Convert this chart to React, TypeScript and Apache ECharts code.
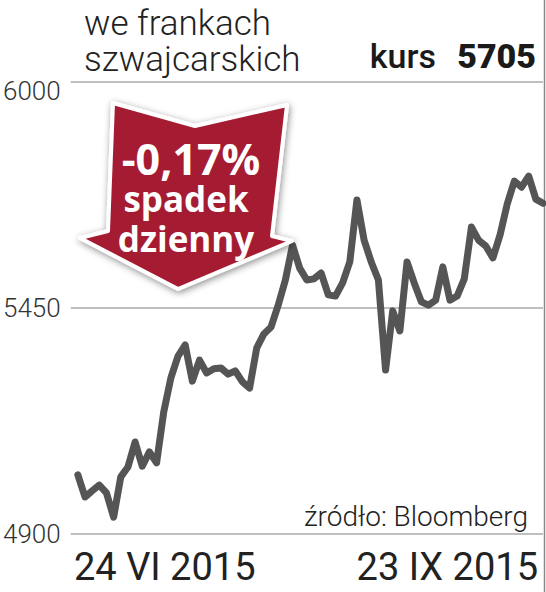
import React, { useEffect, useRef } from "react";
import * as echarts from "echarts";

// Trading days, 24 VI 2015 – 23 IX 2015
const dates: string[] = [
  "2015-06-24", "2015-06-25", "2015-06-26", "2015-06-29", "2015-06-30",
  "2015-07-01", "2015-07-02", "2015-07-03", "2015-07-06", "2015-07-07", "2015-07-08", "2015-07-09", "2015-07-10",
  "2015-07-13", "2015-07-14", "2015-07-15", "2015-07-16", "2015-07-17", "2015-07-20", "2015-07-21", "2015-07-22",
  "2015-07-23", "2015-07-24", "2015-07-27", "2015-07-28", "2015-07-29", "2015-07-30", "2015-07-31",
  "2015-08-03", "2015-08-04", "2015-08-05", "2015-08-06", "2015-08-07", "2015-08-10", "2015-08-11", "2015-08-12",
  "2015-08-13", "2015-08-14", "2015-08-17", "2015-08-18", "2015-08-19", "2015-08-20", "2015-08-21", "2015-08-24",
  "2015-08-25", "2015-08-26", "2015-08-27", "2015-08-28", "2015-08-31",
  "2015-09-01", "2015-09-02", "2015-09-03", "2015-09-04", "2015-09-07", "2015-09-08", "2015-09-09", "2015-09-10",
  "2015-09-11", "2015-09-14", "2015-09-15", "2015-09-16", "2015-09-17", "2015-09-18", "2015-09-21", "2015-09-22",
  "2015-09-23",
];

// Index value in Swiss francs
const values: number[] = [
  5044, 4990, 5005, 5019, 5000, 4941, 5039, 5063, 5124, 5065, 5100, 5073,
  5197, 5280, 5333, 5360, 5272, 5323, 5292, 5302, 5304, 5289, 5297, 5270,
  5255, 5353, 5387, 5404, 5457, 5518, 5603, 5547, 5518, 5521, 5535, 5482,
  5479, 5511, 5562, 5713, 5615, 5562, 5518, 5299, 5443, 5394, 5562, 5511,
  5465, 5457, 5469, 5550, 5469, 5479, 5521, 5647, 5615, 5601, 5572, 5628,
  5703, 5759, 5744, 5771, 5715, 5705,
];

const yTicks: number[] = [4900, 5450, 6000];

const titleLines: string[] = ["we frankach", "szwajcarskich"];
const kursLabel = "kurs";
const kursValue = "5705";
const changeText = "-0,17%";
const changeLines: string[] = ["spadek", "dzienny"];
const sourceText = "źródło: Bloomberg";

const romans = ["I", "II", "III", "IV", "V", "VI", "VII", "VIII", "IX", "X", "XI", "XII"];
const fmtDate = (d: string) => {
  const [y, m, day] = d.split("-");
  return `${parseInt(day, 10)} ${romans[parseInt(m, 10) - 1]} ${y}`;
};

export default function App() {
  const ref = useRef<HTMLDivElement>(null);

  useEffect(() => {
    if (!ref.current) return;
    const chart = echarts.init(ref.current, undefined, { renderer: "svg" });
    const light = "Roboto";
    const option: any = {
      animation: false,
      backgroundColor: "#ffffff",
      grid: { left: 70, right: 3, top: 82, bottom: 58, containLabel: false },
      xAxis: {
        type: "value",
        min: -1,
        max: dates.length - 1,
        axisLine: { show: false },
        axisTick: { show: false },
        axisLabel: { show: false },
        splitLine: { show: false },
      },
      yAxis: {
        type: "value",
        min: yTicks[0],
        max: yTicks[yTicks.length - 1],
        axisLine: { show: false },
        axisTick: { show: false, customValues: yTicks },
        axisLabel: {
          customValues: yTicks,
          formatter: (v: number) => String(v),
          fontFamily: light,
          fontWeight: 300,
          fontSize: 26,
          lineHeight: 18,
          color: "#333333",
          margin: 10,
          verticalAlignMaxLabel: "top",
        },
        splitLine: { show: true, lineStyle: { color: "#aaaaaa", width: 1.5 } },
      },
      series: [
        {
          type: "line",
          data: values.map((v, i) => [i, v]),
          symbol: "none",
          lineStyle: { color: "#555555", width: 7, cap: "round", join: "round" },
          z: 3,
        },
      ],
      graphic: [
        {
          type: "line",
          shape: { x1: 544.5, y1: 0, x2: 544.5, y2: 592 },
          style: { stroke: "#8a8a8a", lineWidth: 1.5 },
          z: 1,
        },
        {
          type: "text",
          x: 84,
          y: 41,
          style: {
            text: titleLines.join("\n"),
            fontFamily: light,
            fontWeight: 300,
            fontSize: 35,
            lineHeight: 36,
            fill: "#222222",
            align: "left",
            verticalAlign: "middle",
          },
          z: 5,
        },
        {
          type: "text",
          x: 436,
          y: 56,
          style: { text: kursLabel, fontFamily: "Roboto", fontWeight: 500, fontSize: 34, fill: "#1a1a1a", align: "right", verticalAlign: "middle" },
          z: 5,
        },
        {
          type: "text",
          x: 536,
          y: 56,
          style: { text: kursValue, fontFamily: "Roboto", fontWeight: 900, fontSize: 34, fill: "#1a1a1a", align: "right", verticalAlign: "middle" },
          z: 5,
        },
        {
          type: "polygon",
          shape: {
            points: [
              [113, 103], [195, 126], [287, 105], [272, 236], [292, 241],
              [178, 289], [80, 238], [108, 231],
            ],
          },
          style: {
            fill: "#a51d33",
            stroke: "#ffffff",
            lineWidth: 4,
            lineJoin: "round",
            shadowBlur: 7,
            shadowColor: "rgba(0,0,0,0.45)",
            shadowOffsetX: 1,
            shadowOffsetY: 2,
          },
          z: 10,
        },
        {
          type: "text",
          x: 186,
          y: 198,
          style: {
            text: `{a|${changeText}}\n{b|${changeLines[0]}}\n{b|${changeLines[1]}}`,
            align: "center",
            verticalAlign: "middle",
            rich: {
              a: { fontFamily: "Open Sans", fontWeight: 700, fontSize: 43, lineHeight: 40, fill: "#ffffff", padding: [0, 0, 0, 10] },
              b: { fontFamily: "Open Sans", fontWeight: 700, fontSize: 35, lineHeight: 40, fill: "#ffffff" },
            },
          },
          z: 11,
        },
        {
          type: "text",
          x: 528,
          y: 516,
          style: { text: sourceText, fontFamily: light, fontWeight: 300, fontSize: 28, fill: "#222222", align: "right", verticalAlign: "middle" },
          z: 5,
        },
        {
          type: "text",
          x: 74,
          y: 567,
          style: { text: fmtDate(dates[0]), fontFamily: "Roboto", fontWeight: 400, fontSize: 38, fill: "#222222", align: "left", verticalAlign: "middle" },
          z: 5,
        },
        {
          type: "text",
          x: 538,
          y: 567,
          style: { text: fmtDate(dates[dates.length - 1]), fontFamily: "Roboto", fontWeight: 400, fontSize: 38, fill: "#222222", align: "right", verticalAlign: "middle" },
          z: 5,
        },
      ],
    };
    chart.setOption(option);
    return () => chart.dispose();
  }, []);

  return (
    <div
      ref={ref}
      style={{ position: "fixed", left: 0, top: 0, width: 546, height: 592, background: "#fff" }}
    />
  );
}
